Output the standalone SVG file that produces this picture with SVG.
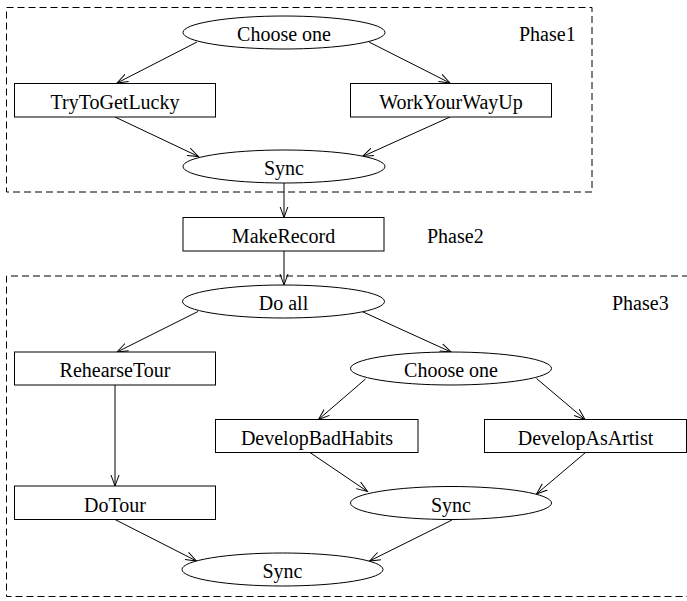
<svg xmlns="http://www.w3.org/2000/svg" width="687" height="601" viewBox="0 0 687 601">
<style>
  .bg { fill: #ffffff; }
  .node { fill: #ffffff; stroke: #000000; stroke-width: 1; }
  .phase { fill: none; stroke: #000000; stroke-width: 1; stroke-dasharray: 7 4; }
  .lbl { font-family: "Liberation Serif", "Times New Roman", serif; font-size: 20px; fill: #000000; text-anchor: middle; }
  .plbl { font-family: "Liberation Serif", "Times New Roman", serif; font-size: 20px; fill: #000000; text-anchor: start; }
  .edge { fill: none; stroke: #000000; stroke-width: 1; marker-end: url(#arrow); }
</style>
<defs>
  <marker id="arrow" viewBox="0 0 12 10" refX="11" refY="5" markerWidth="12" markerHeight="10" markerUnits="userSpaceOnUse" orient="auto">
    <path d="M0,1 L11,5 L0,9" fill="none" stroke="#000000" stroke-width="1"/>
  </marker>
</defs>
<rect class="bg" x="0" y="0" width="687" height="601"/>

<g id="phase-boxes">
  <rect id="phase1-box" class="phase" x="6.5" y="7.5" width="585.5" height="184.5"/>
  <path id="phase3-box" class="phase" d="M700,276 H6.5 V596.5 H700"/>
  <text class="plbl" x="519" y="41">Phase1</text>
  <text class="plbl" x="427" y="243">Phase2</text>
  <text class="plbl" x="612" y="310">Phase3</text>
</g>

<g id="connectors">
  <line class="edge" x1="197" y1="42" x2="117" y2="83"/>
  <line class="edge" x1="369" y1="42" x2="450" y2="83"/>
  <line class="edge" x1="115" y1="117" x2="198.5" y2="156.5"/>
  <line class="edge" x1="450" y1="117" x2="362.5" y2="156.5"/>
  <line class="edge" x1="284" y1="183" x2="284" y2="217.5"/>
  <line class="edge" x1="284" y1="251" x2="284" y2="285"/>
  <line class="edge" x1="198" y1="311.5" x2="117" y2="352"/>
  <line class="edge" x1="362" y1="311.5" x2="451" y2="352"/>
  <line class="edge" x1="115" y1="385" x2="115" y2="486"/>
  <line class="edge" x1="365.5" y1="379" x2="318.5" y2="419.5"/>
  <line class="edge" x1="536.5" y1="378.5" x2="585" y2="419.5"/>
  <line class="edge" x1="310" y1="452.5" x2="367.5" y2="491.5"/>
  <line class="edge" x1="585.5" y1="452.5" x2="536.5" y2="494"/>
  <line class="edge" x1="115" y1="519.5" x2="196.5" y2="561"/>
  <line class="edge" x1="452" y1="520" x2="369.5" y2="561"/>
</g>

<g id="choose-one-1">
  <ellipse class="node" cx="284" cy="32.5" rx="101" ry="16.5"/>
  <text class="lbl" x="284" y="41">Choose one</text>
</g>
<g id="try-to-get-lucky">
  <rect class="node" x="14.5" y="83.5" width="201" height="33.5"/>
  <text class="lbl" x="115" y="109">TryToGetLucky</text>
</g>
<g id="work-your-way-up">
  <rect class="node" x="350.5" y="83.5" width="201" height="33.5"/>
  <text class="lbl" x="451" y="109">WorkYourWayUp</text>
</g>
<g id="sync-1">
  <ellipse class="node" cx="284" cy="166.5" rx="101" ry="16.5"/>
  <text class="lbl" x="284" y="175">Sync</text>
</g>
<g id="make-record">
  <rect class="node" x="183" y="217.5" width="201" height="33.5"/>
  <text class="lbl" x="283.5" y="243">MakeRecord</text>
</g>
<g id="do-all">
  <ellipse class="node" cx="283.5" cy="301.5" rx="101" ry="16.5"/>
  <text class="lbl" x="283.5" y="310">Do all</text>
</g>
<g id="rehearse-tour">
  <rect class="node" x="14.5" y="352" width="201" height="33"/>
  <text class="lbl" x="115" y="377">RehearseTour</text>
</g>
<g id="choose-one-2">
  <ellipse class="node" cx="451" cy="368.5" rx="100.5" ry="16.5"/>
  <text class="lbl" x="451" y="377">Choose one</text>
</g>
<g id="develop-bad-habits">
  <rect class="node" x="215.5" y="419.5" width="202.5" height="33"/>
  <text class="lbl" x="317" y="444.5">DevelopBadHabits</text>
</g>
<g id="develop-as-artist">
  <rect class="node" x="484.5" y="419.5" width="202" height="33"/>
  <text class="lbl" x="585.5" y="444.5">DevelopAsArtist</text>
</g>
<g id="do-tour">
  <rect class="node" x="14.5" y="486" width="201" height="33.5"/>
  <text class="lbl" x="115" y="511.5">DoTour</text>
</g>
<g id="sync-2">
  <ellipse class="node" cx="451" cy="503" rx="100.5" ry="16.5"/>
  <text class="lbl" x="451" y="511.5">Sync</text>
</g>
<g id="sync-3">
  <ellipse class="node" cx="282.5" cy="569.5" rx="100.5" ry="16.5"/>
  <text class="lbl" x="282.5" y="578">Sync</text>
</g>
</svg>
